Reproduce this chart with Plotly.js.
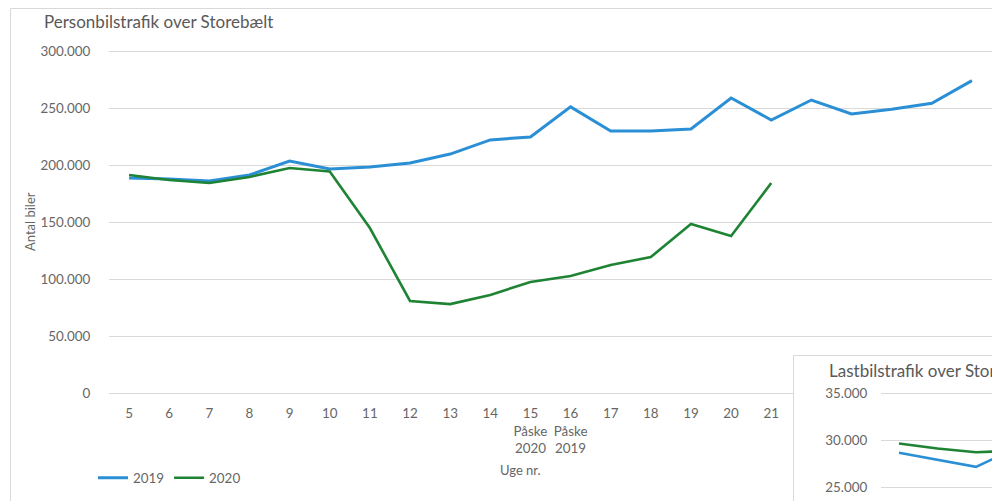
<!DOCTYPE html>
<html>
<head>
<meta charset="utf-8">
<script src="https://cdn.plot.ly/plotly-3.0.1.min.js"></script>
<style>
  html, body { margin: 0; padding: 0; background: #fff; }
  #chart { width: 992px; height: 501px; }
</style>
</head>
<body>
<div id="chart"></div>
<script>
// ---- data ----
const weeks = [5, 6, 7, 8, 9, 10, 11, 12, 13, 14, 15, 16, 17, 18, 19, 20, 21, 22, 23, 24, 25, 26];
const weekLabels = ["5", "6", "7", "8", "9", "10", "11", "12", "13", "14",
  "15<br>Påske<br>2020", "16<br>Påske<br>2019", "17", "18", "19", "20", "21",
  "22", "23", "24", "25", "26"];
const cars2019 = [188600, 187700, 186000, 191200, 203500, 196500, 198200, 201800, 209600, 222000, 224600,
  251000, 229800, 229800, 231600, 258800, 239500, 257000, 244700, 249000, 254100, 274000];
const weeks2020 = [5, 6, 7, 8, 9, 10, 11, 12, 13, 14, 15, 16, 17, 18, 19, 20, 21];
const cars2020 = [191200, 186800, 184200, 189500, 197400, 194300, 144700, 80700, 78000, 86000, 97400,
  102600, 112300, 119300, 148200, 137700, 184200];

// inset (lorries) - only the visible start of it
const truckWeeks = [5, 6, 7, 8];
const trucks2019 = [28700, 27950, 27200, 29100];
const trucks2020 = [29680, 29150, 28750, 28900];

const mainTitle = "Personbilstrafik over Storebælt";
const insetTitle = "Lastbilstrafik over Storebælt";
const yTitle = "Antal biler";
const xTitle = "Uge nr.";

// ---- style ----
const W = 992, H = 501;
const BLUE = "#2a8fd5", GREEN = "#1e8434";
const TXT = "#666666", GRID = "#d9d9d9";
const FONT = "Lato, 'Open Sans', sans-serif";
const TICK = 13.4;
const px = v => v / W;
const py = v => 1 - v / H;

const traces = [
  { x: weeks, y: cars2019, name: "2019", type: "scatter", mode: "lines",
    line: { color: BLUE, width: 3 }, xaxis: "x", yaxis: "y" },
  { x: weeks2020, y: cars2020, name: "2020", type: "scatter", mode: "lines",
    line: { color: GREEN, width: 2.6 }, xaxis: "x", yaxis: "y" },
  // empty trace that only creates the white card subplot behind the inset
  { x: [], y: [], type: "scatter", mode: "lines", showlegend: false, hoverinfo: "skip",
    xaxis: "x2", yaxis: "y2" },
  { x: truckWeeks, y: trucks2019, name: "2019", type: "scatter", mode: "lines", showlegend: false,
    line: { color: BLUE, width: 2.6 }, xaxis: "x3", yaxis: "y3" },
  { x: truckWeeks, y: trucks2020, name: "2020", type: "scatter", mode: "lines", showlegend: false,
    line: { color: GREEN, width: 2.6 }, xaxis: "x3", yaxis: "y3" }
];

// main plot: x 109..992 px, y 48..393 px ; 0 at 393, 300000 at 51
const yTopMain = 300000 + (51 - 48) / (342 / 300000);
// inset: 35000 at 393.5, 25000 at 487.5 ; domain 390..501
const ppk = 94 / 10000;
const y3top = 35000 + (393.5 - 390) / ppk;
const y3bot = 25000 - (501 - 487.5) / ppk;
// inset x: week 5 at 899, 38.5 px per week, domain 881..992
const x3l = 5 - (899 - 881) / 38.5;
const x3r = 5 + (992 - 899) / 38.5;

const hiddenAxis = { visible: true, showticklabels: false, showgrid: false, zeroline: false,
                     showline: false, ticks: "", fixedrange: true };

const layout = {
  width: W, height: H,
  margin: { l: 0, r: 0, t: 0, b: 0 },
  paper_bgcolor: "#ffffff",
  plot_bgcolor: "#ffffff",
  separators: ",.",
  font: { family: FONT, color: TXT, size: 12 },
  showlegend: true,
  title: { text: mainTitle, x: px(44), xanchor: "left", xref: "container",
           y: py(22), yanchor: "middle", yref: "container",
           font: { family: FONT, size: 17, color: "#595959" } },
  xaxis: {
    domain: [px(109), 1], range: [4.5, 26.5], anchor: "y",
    tickmode: "array", tickvals: weeks, ticktext: weekLabels,
    showgrid: false, zeroline: false,
    showline: true, linecolor: GRID, linewidth: 1,
    ticks: "outside", ticklen: 8, tickcolor: "rgba(0,0,0,0)",
    tickfont: { family: FONT, size: TICK, color: TXT },
    fixedrange: true
  },
  yaxis: {
    domain: [py(393), py(48)], range: [0, yTopMain], anchor: "x",
    dtick: 50000, tick0: 0, tickformat: ",d",
    showgrid: true, gridcolor: GRID, gridwidth: 1, zeroline: false, showline: false,
    ticks: "outside", ticklen: 15, tickcolor: "rgba(0,0,0,0)",
    tickfont: { family: FONT, size: TICK, color: TXT },
    fixedrange: true
  },
  // white card behind the inset
  xaxis2: Object.assign({ domain: [px(793), 1], range: [0, 1], anchor: "y2" }, hiddenAxis),
  yaxis2: Object.assign({ domain: [0, py(355)], range: [0, 1], anchor: "x2" }, hiddenAxis),
  // inset plot
  xaxis3: Object.assign({ domain: [px(881), 1], range: [x3l, x3r], anchor: "y3" }, hiddenAxis),
  yaxis3: { domain: [0, py(390)], range: [y3bot, y3top], anchor: "x3",
            dtick: 5000, tick0: 0, tickformat: ",d",
            showgrid: true, gridcolor: GRID, zeroline: false, showline: false,
            ticks: "outside", ticklen: 10, tickcolor: "rgba(0,0,0,0)",
            tickfont: { family: FONT, size: TICK, color: TXT }, fixedrange: true },
  legend: {
    orientation: "h", x: px(93), xanchor: "left", y: py(478), yanchor: "middle",
    font: { family: FONT, size: TICK, color: TXT }, bgcolor: "rgba(0,0,0,0)",
    itemwidth: 30, traceorder: "normal"
  },
  annotations: [
    { text: yTitle, xref: "paper", yref: "paper", x: px(30), y: py(222), textangle: -90,
      showarrow: false, xanchor: "center", yanchor: "middle",
      font: { family: FONT, size: 13, color: TXT } },
    { text: xTitle, xref: "paper", yref: "paper", x: px(520), y: py(470),
      showarrow: false, xanchor: "center", yanchor: "middle",
      font: { family: FONT, size: 13, color: TXT } },
    { text: insetTitle, xref: "paper", yref: "paper", x: px(827), y: py(370),
      showarrow: false, xanchor: "left", yanchor: "middle",
      font: { family: FONT, size: 17, color: "#595959" } }
  ],
  shapes: [
    { type: "rect", xref: "paper", yref: "paper", x0: px(10.5), x1: 1.1, y0: -0.1, y1: py(8.5),
      line: { color: GRID, width: 1 }, fillcolor: "rgba(0,0,0,0)", layer: "above" },
    { type: "rect", xref: "paper", yref: "paper", x0: px(793.5), x1: 1.1, y0: -0.1, y1: py(355.5),
      line: { color: GRID, width: 1 }, fillcolor: "rgba(0,0,0,0)", layer: "above" }
  ]
};

Plotly.newPlot("chart", traces, layout, { displayModeBar: false, staticPlot: true });
</script>
</body>
</html>
